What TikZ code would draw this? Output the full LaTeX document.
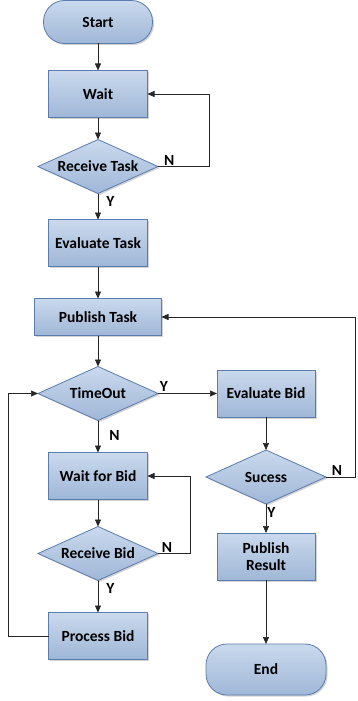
\documentclass[tikz,border=0pt]{standalone}
\usepackage{fontspec}
\setmainfont{Carlito}
\usetikzlibrary{arrows.meta,positioning,shapes.geometric,shadows}
\definecolor{boxtop}{HTML}{CAD9ED}
\definecolor{boxbot}{HTML}{9FB7D7}
\definecolor{boxline}{HTML}{5A7CAE}
\tikzset{
    base/.style={
        draw=boxline, line width=0.8pt, outer sep=0pt,
        top color=boxtop, bottom color=boxbot,
        drop shadow={shadow xshift=1.5pt, shadow yshift=-1.5pt, opacity=0.35},
        font=\fontsize{15.5}{17}\selectfont\bfseries, align=center
    },
    procbox/.style={base, rectangle, minimum width=99pt, minimum height=47pt},
    decision/.style={base, diamond, aspect=2.2, inner sep=0pt,
        minimum width=120pt, minimum height=54pt},
    terminal/.style={base, rectangle, rounded corners=21pt},
    lbl/.style={font=\fontsize{15.5}{17}\selectfont\bfseries, inner sep=0pt},
    line/.style={line width=0.7pt, draw=black!85},
    arr/.style={line, -{Triangle[length=7pt,width=6pt]}}
}
\begin{document}
\begin{tikzpicture}
\useasboundingbox (0,0) rectangle (358pt,-701pt);

% Left column
\node[terminal, minimum width=109pt, minimum height=43pt] (start) at (98pt,-22pt) {Start};
\node[procbox, below=27pt of start] (wait) {Wait};
\node[decision, below=22pt of wait] (rtask) {Receive Task};
\node[procbox, below=26pt of rtask] (evtask) {Evaluate Task};
\node[procbox, minimum width=127pt, minimum height=37pt, below=32pt of evtask] (pubtask) {Publish Task};
\node[decision, below=31pt of pubtask] (tout) {TimeOut};
\node[procbox, below=32pt of tout] (waitbid) {Wait for Bid};
\node[decision, below=27pt of waitbid] (rbid) {Receive Bid};
\node[procbox, below=32pt of rbid] (procbid) {Process Bid};

% Right column
\node[procbox, minimum width=98pt, right=59pt of tout] (evbid) {Evaluate Bid};
\node[decision, below=33pt of evbid] (sucess) {Sucess};
\node[procbox, minimum width=98pt, below=29pt of sucess] (pubres) {Publish\\Result};
\node[terminal, minimum width=120pt, minimum height=51pt, below=64pt of pubres] (stop) {End};

% Straight arrows
\draw[arr] (start) -- (wait);
\draw[arr] (wait) -- (rtask);
\draw[arr] (rtask) -- node[lbl, pos=0.3, right=8pt] (y1) {Y} (evtask);
\draw[arr] (evtask) -- (pubtask);
\draw[arr] (pubtask) -- (tout);
\draw[arr] (tout) -- node[lbl, pos=0.47, right=11pt] (n2) {N} (waitbid);
\draw[arr] (waitbid) -- (rbid);
\draw[arr] (rbid) -- node[lbl, pos=0.25, right=8pt] (y3) {Y} (procbid);
\draw[arr] (tout) -- node[lbl, pos=0.1, above=2pt] (y2) {Y} (evbid);
\draw[arr] (evbid) -- (sucess);
\draw[arr] (sucess) -- node[lbl, pos=0.28, right=1pt] (y4) {Y} (pubres);
\draw[arr] (pubres) -- (stop);

% Loops back
\draw[arr] (rtask.east) -- node[lbl, pos=0.22, above=1pt] (n1) {N} ++(51pt,0) |- (wait.east);
\draw[arr] (rbid.east) -- node[lbl, pos=0.28, above=1pt] (n3) {N} ++(32pt,0) |- (waitbid.east);
\draw[arr] (procbid.west) -- ++(-40pt,0) |- (tout.west);
\draw[arr] (sucess.east) -- node[lbl, pos=0.37, above=1pt] (n4) {N} ++(29.5pt,0) |- (pubtask.east);

\end{tikzpicture}
\end{document}
